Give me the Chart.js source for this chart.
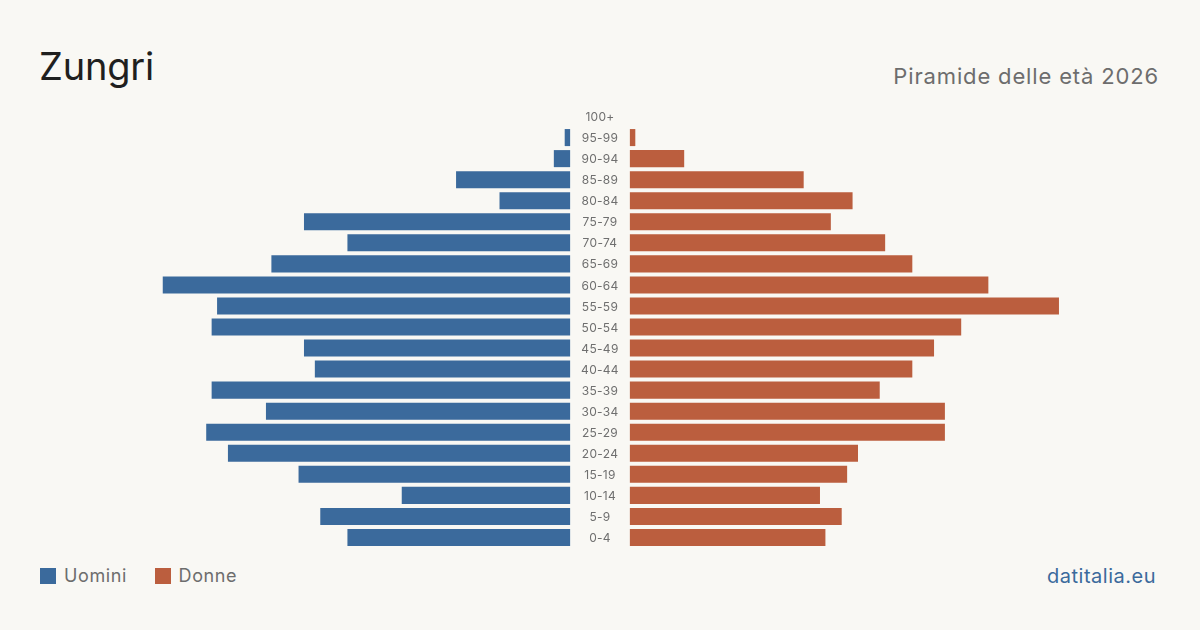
<!DOCTYPE html>
<html>
<head>
<meta charset="utf-8">
<script src="https://cdn.jsdelivr.net/npm/chart.js@4"></script>
<style>
  body { margin: 0; width: 1200px; height: 630px; background: #f9f8f4; font-family: Inter, "Noto Sans", sans-serif; position: relative; overflow: hidden; }
  #title { position: absolute; left: 39px; top: 43px; font-size: 38px; color: #1f1f1f; line-height: 46px; letter-spacing: -0.2px; }
  #subtitle { position: absolute; right: 41px; top: 62px; font-size: 22px; color: #6d6d6d; line-height: 28px; letter-spacing: 0.85px; }
  #wrap { position: absolute; left: 40px; top: 106px; width: 1120px; height: 442px; }
  #legend { position: absolute; left: 40px; top: 564px; font-size: 18px; color: #6d6d6d; line-height: 24px; letter-spacing: 0.6px; }
  .item { display: inline-block; margin-right: 22px; }
  .sw { display: inline-block; width: 16px; height: 16px; vertical-align: -2px; margin-right: 8px; }
  #source { position: absolute; right: 44px; top: 563px; font-size: 20px; color: #3b6a9c; line-height: 26px; letter-spacing: 0.5px; }
</style>
</head>
<body>
<div id="title">Zungri</div>
<div id="subtitle">Piramide delle età 2026</div>
<div id="wrap"><canvas id="myChart"></canvas></div>
<div id="legend">
  <span class="item"><span class="sw" style="background:#3b6a9c"></span>Uomini</span>
  <span class="item"><span class="sw" style="background:#bb5e3e"></span>Donne</span>
</div>
<div id="source">datitalia.eu</div>
<script>
const ageGroups = ['100+', '95-99', '90-94', '85-89', '80-84', '75-79', '70-74', '65-69', '60-64', '55-59',
    '50-54', '45-49', '40-44', '35-39', '30-34', '25-29', '20-24', '15-19', '10-14', '5-9', '0-4'];
const men = [0, 1, 3, 21, 13, 49, 41, 55, 75, 65, 66, 49, 47, 66, 56, 67, 63, 50, 31, 46, 41];
const women = [0, 1, 10, 32, 41, 37, 47, 52, 66, 79, 61, 56, 52, 46, 58, 58, 42, 40, 35, 39, 36];

// half-gap in the middle for the age labels (in value units)
const gap = 5.5;
const range = 103.1;

// floating bars: men to the left of the gap, women to the right
const menBars = men.map(v => [-gap - v, -gap]);
const womenBars = women.map(v => [gap, gap + v]);

// draw the age labels in the centre gap
const centerLabels = {
    id: 'centerLabels',
    afterDatasetsDraw(chart) {
        const ctx = chart.ctx;
        const x = chart.scales.x.getPixelForValue(0);
        ctx.save();
        ctx.font = '12px Inter, "Noto Sans", sans-serif';
        ctx.fillStyle = '#6f6f6f';
        ctx.textAlign = 'center';
        ctx.textBaseline = 'middle';
        ctx.letterSpacing = '0.3px';
        ageGroups.forEach((label, i) => {
            ctx.fillText(label, x, chart.scales.y.getPixelForValue(i) + 1);
        });
        ctx.restore();
    }
};

var ctx = document.getElementById('myChart').getContext('2d');
var myChart = new Chart(ctx, {
    type: 'bar',
    data: {
        labels: ageGroups,
        datasets: [{
            label: 'Uomini',
            data: menBars,
            backgroundColor: '#3b6a9c',
            barPercentage: 0.81,
            categoryPercentage: 1,
            grouped: false
        }, {
            label: 'Donne',
            data: womenBars,
            backgroundColor: '#bb5e3e',
            barPercentage: 0.81,
            categoryPercentage: 1,
            grouped: false
        }]
    },
    options: {
        indexAxis: 'y',
        responsive: true,
        maintainAspectRatio: false,
        animation: false,
        layout: { padding: 0 },
        scales: {
            x: { display: false, min: -range, max: range },
            y: { display: false }
        },
        plugins: {
            legend: { display: false },
            tooltip: { enabled: false }
        }
    },
    plugins: [centerLabels]
});
</script>
</body>
</html>
